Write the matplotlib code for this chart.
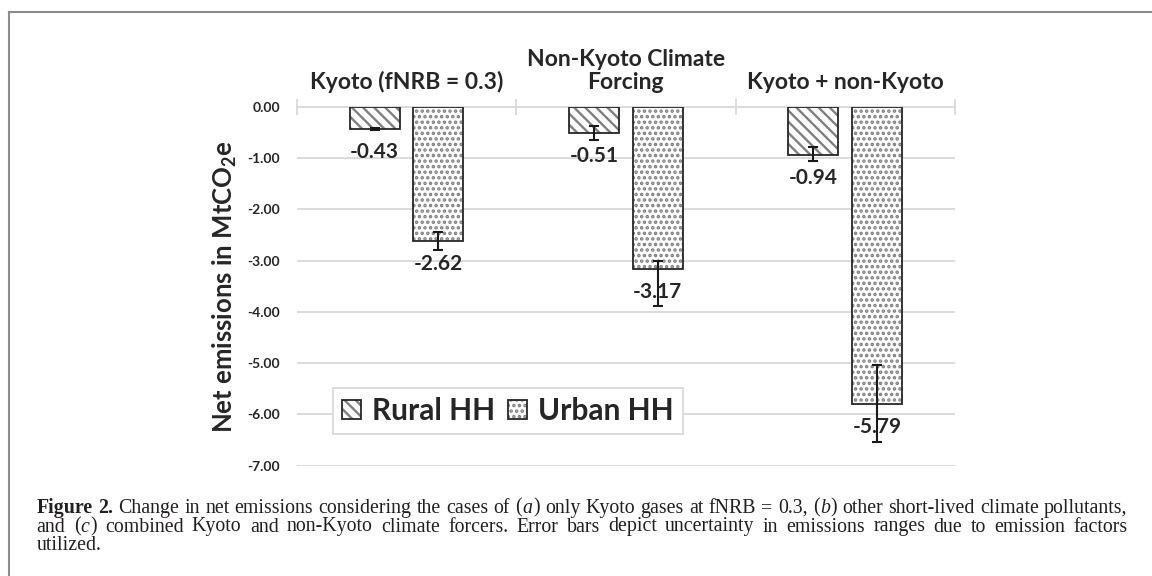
import matplotlib
matplotlib.use("Agg")
import matplotlib.pyplot as plt
from matplotlib.lines import Line2D
from matplotlib.legend_handler import HandlerTuple
import numpy as np

# data
categories = ["Kyoto (fNRB = 0.3)", "Non-Kyoto Climate\nForcing", "Kyoto + non-Kyoto"]
series_names = ["Rural HH", "Urban HH"]
rural = [-0.43, -0.51, -0.94]
urban = [-2.62, -3.17, -5.79]
rural_err_minus = [0.02, 0.13, 0.12]
rural_err_plus = [0.02, 0.13, 0.15]
urban_err_minus = [0.17, 0.72, 0.75]
urban_err_plus = [0.18, 0.17, 0.75]
yticks = [0.0, -1.0, -2.0, -3.0, -4.0, -5.0, -6.0, -7.0]

# '*' = bold, '_' = italic
caption = [
    "*Figure* *2.* Change in net emissions considering the cases of (_a_) only Kyoto gases at fNRB = 0.3, (_b_) other short-lived climate pollutants,",
    "and (_c_) combined Kyoto and non-Kyoto climate forcers. Error bars depict uncertainty in emissions ranges due to emission factors",
    "utilized.",
]

W, H = 1152, 576
plt.rcParams['font.family'] = ['Lato', 'DejaVu Sans']
plt.rcParams['hatch.linewidth'] = 1.7
plt.rcParams['mathtext.fontset'] = 'custom'
plt.rcParams['mathtext.rm'] = 'Lato:bold'
plt.rcParams['mathtext.it'] = 'Lato:bold'
plt.rcParams['mathtext.bf'] = 'Lato:bold'

dark = '#262626'
grid = '#d9d9d9'
hatch_col = '#808080'

fig = plt.figure(figsize=(W / 100, H / 100), dpi=100)
ax = fig.add_axes([296.7 / W, 1 - 465.7 / H, (955 - 296.7) / W, 359 / H])

x = np.arange(len(categories))
off = 0.145
w = 0.228

r_fill = ax.bar(x - off, rural, w, color='white', edgecolor=hatch_col, hatch='\\' * 3, linewidth=0, zorder=2)
r_line = ax.bar(x - off, rural, w, fill=False, edgecolor=dark, linewidth=1.3, zorder=3)
u_fill = ax.bar(x + off, urban, w, color='white', edgecolor=hatch_col, hatch='...', linewidth=0, zorder=2)
u_line = ax.bar(x + off, urban, w, fill=False, edgecolor=dark, linewidth=1.3, zorder=3)

ax.errorbar(x - off, rural, yerr=[rural_err_minus, rural_err_plus], fmt='none', ecolor='#1a1a1a',
            elinewidth=1.5, capsize=3.5, capthick=1.5, zorder=6)
ax.errorbar(x + off, urban, yerr=[urban_err_minus, urban_err_plus], fmt='none', ecolor='#1a1a1a',
            elinewidth=1.5, capsize=3.5, capthick=1.5, zorder=6)

for xs, vals in ((x - off, rural), (x + off, urban)):
    for xi, v in zip(xs, vals):
        ax.annotate(f"{v:.2f}", (xi, v), xytext=(0, -9.5), textcoords='offset points',
                    ha='center', va='top', fontsize=15, fontweight='bold', color=dark, zorder=5)

ax.set_xlim(-0.5, 2.5)
ax.set_ylim(-7, 0)
ax.set_yticks(yticks)
ax.set_yticklabels([f"{t:.2f}" for t in yticks], fontsize=10, fontweight='bold', color=dark)
ax.tick_params(axis='y', length=0, pad=12)
ax.yaxis.grid(True, color=grid, lw=1.3)
ax.set_axisbelow(True)

ax.xaxis.tick_top()
ax.set_xticks(x)
ax.set_xticklabels(categories, fontsize=16.5, fontweight='bold', color=dark, linespacing=1.1)
ax.set_xticks([-0.5, 0.5, 1.5, 2.5], minor=True)
ax.tick_params(axis='x', which='major', length=0, pad=10)
ax.tick_params(axis='x', which='minor', length=11, direction='inout', width=1.3, color=grid,
               top=True, bottom=False)

for s in ('left', 'right', 'bottom'):
    ax.spines[s].set_visible(False)
ax.spines['top'].set_color(grid)
ax.spines['top'].set_linewidth(1.3)

ax.set_ylabel("Net emissions in MtCO$_2$e", fontsize=18.5, fontweight='bold', color=dark)
ax.yaxis.set_label_coords(-0.088, 0.5)

leg = ax.legend([(r_fill, r_line), (u_fill, u_line)], series_names,
                handler_map={tuple: HandlerTuple(ndivide=1)},
                loc='center', bbox_to_anchor=(0.321, 0.152), ncol=2,
                prop={'size': 21.5, 'weight': 'bold'}, labelcolor=dark,
                fancybox=False, framealpha=1, edgecolor=grid,
                handlelength=0.63, handleheight=0.63, handletextpad=0.37,
                columnspacing=0.45, borderpad=0.3)
leg.get_frame().set_linewidth(1.3)

# frame around the figure (only top and left are visible)
fig.add_artist(Line2D([8.7 / W, 8.7 / W], [0, 1 - 12 / H], transform=fig.transFigure, color='#8c8c8c', lw=1.5))
fig.add_artist(Line2D([8.7 / W, 1], [1 - 12 / H, 1 - 12 / H], transform=fig.transFigure, color='#8c8c8c', lw=1.5))


def parse(word):
    runs, buf, bold, ital = [], '', False, False
    for ch in word:
        if ch in '*_':
            if buf:
                runs.append((buf, bold, ital))
                buf = ''
            if ch == '*':
                bold = not bold
            else:
                ital = not ital
        else:
            buf += ch
    if buf:
        runs.append((buf, bold, ital))
    return runs


renderer = fig.canvas.get_renderer()
x0, x1 = 36.7, 1128


def make_words(line, yb, size):
    words = []
    for word in line.split(' '):
        texts = []
        for txt, bold, ital in parse(word):
            t = fig.text(0, 1 - yb / H, txt, fontsize=size, family=['Liberation Serif'],
                         weight='bold' if bold else 'normal', style='italic' if ital else 'normal',
                         va='baseline', ha='left', color='#231f20')
            texts.append(t)
        words.append(texts)
    widths = [[t.get_window_extent(renderer).width + 0.5 for t in ts] for ts in words]
    return words, widths


# pick the caption size so that the first line fills the width with normal spaces
probe, pw = make_words(caption[0], 0, 13)
ink = sum(sum(ws) for ws in pw)
for ts in probe:
    for t in ts:
        t.remove()
ngaps = len(probe) - 1
cap_size = (x1 - x0) / (ink / 13 + ngaps * 0.25 * 100 / 72)

baselines = [512.7, 531.5, 550]
for i, (line, yb) in enumerate(zip(caption, baselines)):
    words, widths = make_words(line, yb, cap_size)
    total = sum(sum(ws) for ws in widths)
    if i == len(caption) - 1 or len(words) == 1:
        gap = 4
    else:
        gap = (x1 - x0 - total) / (len(words) - 1)
    xpos = x0
    for ts, ws in zip(words, widths):
        for t, wd in zip(ts, ws):
            t.set_x(xpos / W)
            xpos += wd
        xpos += gap

fig.savefig("out.png", dpi=100)
